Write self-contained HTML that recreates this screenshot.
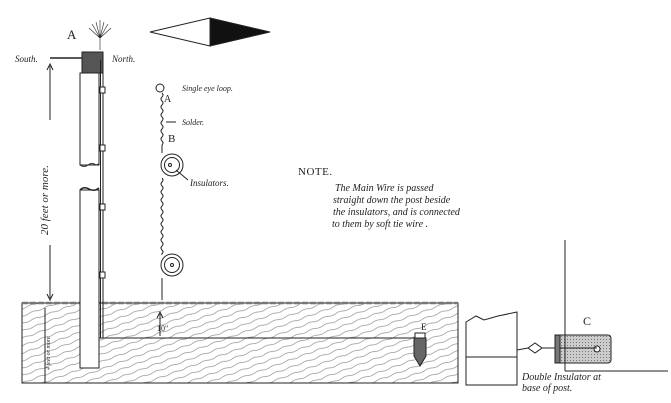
<!DOCTYPE html>
<html><head><meta charset="utf-8"><style>
html,body{margin:0;padding:0;background:#fff;}
svg{display:block}
.it{font-family:"Liberation Serif",serif;font-style:italic;fill:#222}
.rm{font-family:"Liberation Serif",serif;fill:#222}
</style></head><body>
<svg width="671" height="403" viewBox="0 0 671 403" xmlns="http://www.w3.org/2000/svg">
<defs>
<pattern id="wood" width="16" height="7" patternUnits="userSpaceOnUse" patternTransform="rotate(-20)">
<path d="M0 3.5 q4 -1.2 8 0 t8 0" stroke="#666" stroke-width="0.55" fill="none"/>
</pattern>
<pattern id="dots" width="3" height="3" patternUnits="userSpaceOnUse">
<rect width="3" height="3" fill="#ccc"/><rect width="1" height="1" fill="#777"/>
</pattern>
</defs>
<g stroke="#222" fill="none" stroke-width="1">
<rect x="22" y="303" width="436" height="80" fill="url(#wood)"/>
<line x1="22" y1="303" x2="458" y2="303" stroke="#777" stroke-width="2.5" stroke-dasharray="6 2"/>
<line x1="80" y1="338" x2="415" y2="338"/>
<rect x="80" y="73" width="19" height="92" fill="#fff"/>
<path d="M80 165 q4 3 8 0 t8 0 l3 -1" />
<rect x="80" y="190" width="19" height="178" fill="#fff"/>
<path d="M80 190 q4 -4 9 -1 t10 -1" stroke-width="1.5"/>
<rect x="82" y="52" width="21" height="21" fill="#555"/>
<line x1="103" y1="60" x2="103" y2="338"/>
<line x1="100.5" y1="60" x2="100.5" y2="338"/>
<rect x="100" y="87" width="5" height="6" fill="#fff"/>
<rect x="100" y="145" width="5" height="6" fill="#fff"/>
<rect x="100" y="204" width="5" height="6" fill="#fff"/>
<rect x="100" y="272" width="5" height="6" fill="#fff"/>
<line x1="50" y1="58" x2="82" y2="58" stroke-width="1.5"/>
<path d="M100 50 v-12 M100 38 l-8 -14 M100 38 l-4 -16 M100 38 l0 -18 M100 38 l4 -16 M100 38 l8 -14 M100 38 l11 -10 M100 38 l-11 -10" stroke-width="0.6"/>
<path d="M150 32 L210 18 L210 46 Z"/>
<path d="M210 18 L270 32 L210 46 Z" fill="#111"/>
<line x1="50" y1="66" x2="50" y2="120"/><path d="M47 70 L50 64 L53 70"/>
<line x1="50" y1="245" x2="50" y2="298"/><path d="M47 294 L50 300 L53 294"/>
<line x1="45" y1="308" x2="45" y2="383"/>
<circle cx="160" cy="88" r="4"/>
<path d="M162 93 q2 2 0 4 t0 4 t0 4 t0 4 t0 4 t0 4 t0 4 t0 4 t0 4 t0 4 t0 4 t0 4 t0 4 V153"/>
<path d="M162 178 q2 2 0 4 t0 4 t0 4 t0 4 t0 4 t0 4 t0 4 t0 4 t0 4 t0 4 t0 4 t0 4 t0 4 t0 4 t0 4 t0 4 t0 4 t0 4 t0 4 V253"/>
<path d="M162 278 V300"/>
<circle cx="172" cy="165" r="11"/><circle cx="172" cy="165" r="7.5"/><circle cx="170" cy="165" r="1.5"/>
<circle cx="172" cy="265" r="11"/><circle cx="172" cy="265" r="7.5"/><circle cx="172" cy="265" r="1.5"/>
<line x1="176" y1="170" x2="188" y2="180"/>
<line x1="166" y1="122" x2="176" y2="122"/>
<line x1="160" y1="314" x2="160" y2="336"/><path d="M157 318 L160 312 L163 318"/>
<path d="M414 338 h12 v18 l-6 10 l-6 -10 Z" fill="#666"/>
<rect x="415" y="333" width="10" height="5" fill="#fff"/>
<path d="M466 322 l10 -6 l8 4 l14 -4 l19 -4 V385 H466 Z" fill="#fff"/>
<line x1="466" y1="357" x2="517" y2="357"/>
<line x1="517" y1="350" x2="528" y2="348"/>
<path d="M528 348 l7 -5 l7 5 l-7 5 Z"/>
<line x1="542" y1="348" x2="560" y2="348"/>
<rect x="555" y="335" width="56" height="28" rx="3" fill="url(#dots)"/>
<rect x="555" y="335" width="5" height="28" fill="#777"/>
<circle cx="597" cy="349" r="3" fill="#fff"/>
<line x1="560" y1="348" x2="597" y2="348"/>
<line x1="565" y1="240" x2="565" y2="371"/>
<line x1="565" y1="371" x2="668" y2="371"/>
</g>
<text x="67" y="39" class="rm" font-size="13">A</text>
<text x="15" y="62" class="it" font-size="9">South.</text>
<text x="112" y="62" class="it" font-size="9">North.</text>
<text x="182" y="91" class="it" font-size="8">Single eye loop.</text>
<text x="164" y="102" class="rm" font-size="10">A</text>
<text x="182" y="125" class="it" font-size="8">Solder.</text>
<text x="168" y="142" class="rm" font-size="11">B</text>
<text x="190" y="186" class="it" font-size="9">Insulators.</text>
<text x="157" y="331" class="rm" font-size="8">10"</text>
<text x="421" y="330" class="rm" font-size="9">E</text>
<text x="583" y="325" class="rm" font-size="12">C</text>
<text transform="translate(48,235) rotate(-90)" class="it" font-size="11">20 feet or more.</text>
<text transform="translate(50,370) rotate(-90)" class="it" font-size="6">4 feet or more</text>
<text x="298" y="175" class="rm" font-size="11" letter-spacing="0.5">NOTE.</text>
<text x="335" y="191" class="it" font-size="10">The Main Wire  is passed</text>
<text x="333" y="203" class="it" font-size="10">straight down the post beside</text>
<text x="333" y="215" class="it" font-size="10">the insulators, and is connected</text>
<text x="332" y="227" class="it" font-size="10">to them by soft tie wire .</text>
<text x="522" y="380" class="it" font-size="10">Double Insulator at</text>
<text x="522" y="391" class="it" font-size="10">base of post.</text>
</svg>
</body></html>
